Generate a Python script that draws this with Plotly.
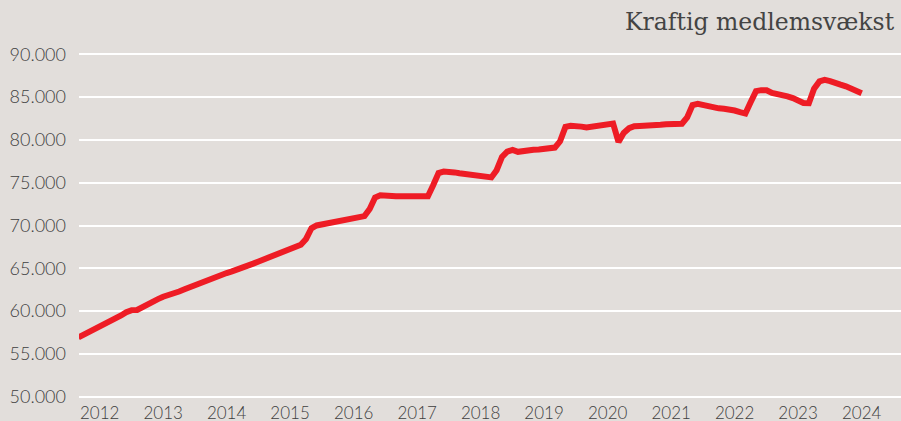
import pandas as pd
import plotly.graph_objects as go

# Monthly membership counts, March 2012 - July 2024
start_month = "2012-03-01"
members = [
    56930, 57246, 57555, 57864, 58168, 58460, 58704, 59078, 59487, 59872,
    60117, 60140, 60479, 60817, 61121, 61401, 61681, 61844, 62020, 62288, 62545, 62802,
    63035, 63175, 63467, 63759, 64028, 64261, 64448, 64635, 64821, 65055, 65288, 65545,
    65802, 66047, 66280, 66502, 66689, 66864, 67156, 67471, 67751, 68428, 69677, 70004,
    70133, 70203, 70319, 70471, 70623, 70693, 70798, 70915, 71101, 71930, 73261, 73541,
    73448, 73424, 73424, 73427, 73441, 73459, 73564, 73553, 73424, 74708, 76133, 76296,
    76319, 76203, 76097, 76028, 75957, 75922, 75887, 75782, 75619, 76459, 78023, 78630,
    78840, 78607, 78712, 78806, 78840, 78870, 78957, 79051, 79100, 79833, 81525, 81654,
    81654, 81549, 81444, 81514, 81595, 81689, 81806, 81911, 79763, 80813, 81362, 81595,
    81630, 81630, 81630, 81700, 81759, 81829, 81887, 81794, 81887, 82623, 84070, 84222,
    84059, 83848, 83767, 83685, 83627, 83580, 83428, 83241, 83078, 84397, 85693, 85809,
    85798, 85483, 85389, 85261, 85086, 84887, 84619, 84315, 84280, 85973, 86837, 87012,
    86872, 86580, 86451, 86253, 85985, 85650, 85450,
]
months = pd.date_range(start_month, periods=len(members), freq="MS")

year_ticks = ["2012-07-01", "2013-07-01", "2014-07-01", "2015-07-01", "2016-07-01",
              "2017-07-01", "2018-07-01", "2019-07-01", "2020-07-01", "2021-07-01",
              "2022-07-01", "2023-07-01", "2024-07-01"]
year_labels = ["2012", "2013", "2014", "2015", "2016", "2017", "2018", "2019",
               "2020", "2021", "2022", "2023", "2024"]
y_ticks = [50000, 55000, 60000, 65000, 70000, 75000, 80000, 85000, 90000]
y_labels = ["50.000", "55.000", "60.000", "65.000", "70.000", "75.000",
            "80.000", "85.000", "90.000"]
title_text = "Kraftig medlemsvækst"

bg = "#e2dedb"

fig = go.Figure()
fig.add_trace(go.Scatter(
    x=months, y=members, mode="lines",
    line=dict(color="#ee1c25", width=6, shape="linear"),
    hoverinfo="x+y", showlegend=False,
))

fig.update_layout(
    width=901, height=421,
    paper_bgcolor=bg, plot_bgcolor=bg,
    margin=dict(l=79, r=0, t=50, b=20, autoexpand=False),
    font=dict(family="Lato", size=18, color="#3f3f3f", weight=300),
    xaxis=dict(
        range=["2012-03-04", "2025-02-12"],
        tickvals=year_ticks, ticktext=year_labels,
        tickfont=dict(size=17),
        showgrid=False, zeroline=False, showline=False, ticks="",
        ticklabelstandoff=0,
    ),
    yaxis=dict(
        range=[49500, 90500],
        tickvals=y_ticks, ticktext=y_labels,
        showgrid=True, gridcolor="#ffffff", gridwidth=2,
        zeroline=False, showline=False, ticks="",
        ticklabelstandoff=12,
    ),
    annotations=[dict(
        text=title_text, xref="paper", yref="paper", x=1, y=1,
        xanchor="right", yanchor="bottom", xshift=-4, yshift=12,
        showarrow=False,
        font=dict(family="DejaVu Serif", size=23.5, color="#444444", weight=300),
    )],
)

fig.write_html("out.html", config={"displayModeBar": False},
               post_script="document.body.style.margin='0';document.body.style.background='%s';" % bg)
